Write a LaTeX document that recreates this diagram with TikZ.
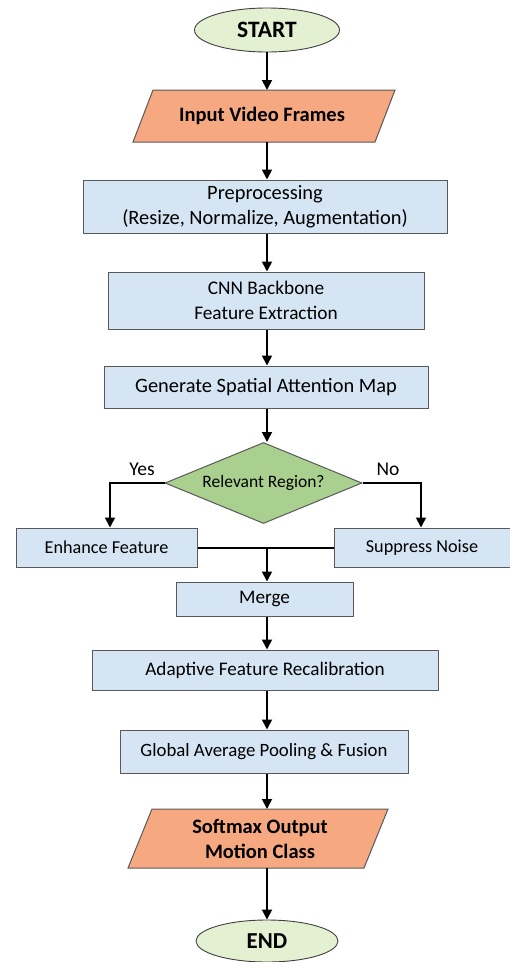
\documentclass[tikz,border=0pt]{standalone}
\usepackage{fontspec}
\setmainfont{Carlito}
\usetikzlibrary{shapes.geometric,arrows.meta,positioning}
\definecolor{termgreen}{HTML}{E4F0D2}
\definecolor{procblue}{HTML}{D5E5F3}
\definecolor{ioorange}{HTML}{F6A880}
\definecolor{decgreen}{HTML}{A9D08E}
\newcommand{\fsz}[1]{\fontsize{#1}{25}\selectfont}
\tikzset{
  terminal/.style={ellipse, draw=black!75, line width=0.9pt, fill=termgreen, minimum width=145pt, minimum height=44pt, inner sep=0pt, font=\fsz{23.5}\bfseries},
  procbox/.style={rectangle, draw=black!65, line width=1pt, fill=procblue, inner sep=0pt, align=center, font=\fsz{19.5}},
  iotext/.style={inner sep=0pt, align=center, font=\fsz{20.5}\bfseries},
  iofill/.style={fill=ioorange, draw=black!65, line width=1pt},
  decision/.style={diamond, draw=black!65, line width=1pt, fill=decgreen, aspect=2.45, minimum width=197pt, minimum height=81pt, inner sep=0pt, font=\fsz{17.5}},
  conn/.style={line width=1.8pt, -{Triangle[length=10pt,width=10pt]}},
  plain/.style={line width=2pt},
  lbl/.style={font=\fsz{19.5}}
}
\begin{document}
\begin{tikzpicture}[x=1pt,y=-1pt]
\useasboundingbox (0,0) rectangle (510,962);
\fill[white] (0,0) rectangle (510,962);

\node[terminal] (start) at (267,30) {START};

% Input Video Frames parallelogram
\coordinate (in1) at (153,90);
\coordinate (in2) at (395,90);
\coordinate (in3) at (375,142);
\coordinate (in4) at (133,142);
\fill[iofill] (in1) -- (in2) -- (in3) -- (in4) -- cycle;
\node[iotext] (input) at (262,116) {Input Video Frames};

\node[procbox, minimum width=364pt, minimum height=53pt, font=\fsz{20.4}] (pre) at (265,206.5) {Preprocessing\\(Resize, Normalize, Augmentation)};
\node[procbox, minimum width=316pt, minimum height=57pt, font=\fsz{19.3}] (cnn) at (266,300.5) {CNN Backbone\\Feature Extraction};
\node[procbox, minimum width=324pt, minimum height=42pt, font=\fsz{20.4}] (gen) at (266,387) {Generate Spatial Attention Map};
\node[decision] (dec) at (263.5,483) {Relevant Region?};

\node[procbox, minimum width=181pt, minimum height=39pt, font=\fsz{18.2}] (enh) at (106.5,547.5) {Enhance Feature};
\node[procbox, minimum width=176pt, minimum height=39pt, font=\fsz{18.2}] (sup) at (422,547.5) {Suppress Noise};
\node[procbox, minimum width=177pt, minimum height=34pt, font=\fsz{19.2}] (merge) at (264.5,599) {Merge};
\node[procbox, minimum width=346pt, minimum height=40pt, font=\fsz{19.2}] (adapt) at (265,670) {Adaptive Feature Recalibration};
\node[procbox, minimum width=288pt, minimum height=43pt, font=\fsz{18.8}] (gap) at (264,751.5) {Global Average Pooling \& Fusion};

% Softmax parallelogram
\coordinate (so1) at (152,809);
\coordinate (so2) at (388,809);
\coordinate (so3) at (364,868);
\coordinate (so4) at (128,868);
\fill[iofill] (so1) -- (so2) -- (so3) -- (so4) -- cycle;
\node[iotext] (soft) at (260,838.5) {Softmax Output\\Motion Class};

\node[terminal, minimum width=142pt, minimum height=42pt, font=\fsz{22.8}\bfseries] (end) at (267,941) {END};

% connectors
\coordinate (intop) at (267,90);
\coordinate (inbot) at (267,142);
\coordinate (sotop) at (267,809);
\coordinate (sobot) at (267,868);
\draw[conn] (start.south) -- (intop);
\draw[conn] (inbot) -- (pre.north -| inbot);
\draw[conn] (pre.south -| inbot) -- (cnn.north -| inbot);
\draw[conn] (cnn.south -| inbot) -- (gen.north -| inbot);
\draw[conn] (gen.south -| inbot) -- (dec.north -| inbot);
\coordinate (ycorner) at (110,483);
\coordinate (ncorner) at (421,483);
\draw[conn] (dec.west) -- (ycorner) -- (enh.north -| ycorner);
\draw[conn] (dec.east) -- (ncorner) -- (sup.north -| ncorner);
\node[lbl] (yes) at (142,469) {Yes};
\node[lbl] (no) at (388,469) {No};
\coordinate (mj) at (267,548);
\draw[plain] (enh.east |- mj) -- (sup.west |- mj);
\draw[conn] (mj) -- (merge.north -| mj);
\draw[conn] (merge.south -| inbot) -- (adapt.north -| inbot);
\draw[conn] (adapt.south -| inbot) -- (gap.north -| inbot);
\draw[conn] (gap.south -| inbot) -- (sotop);
\draw[conn] (sobot) -- (end.north);
\end{tikzpicture}
\end{document}
